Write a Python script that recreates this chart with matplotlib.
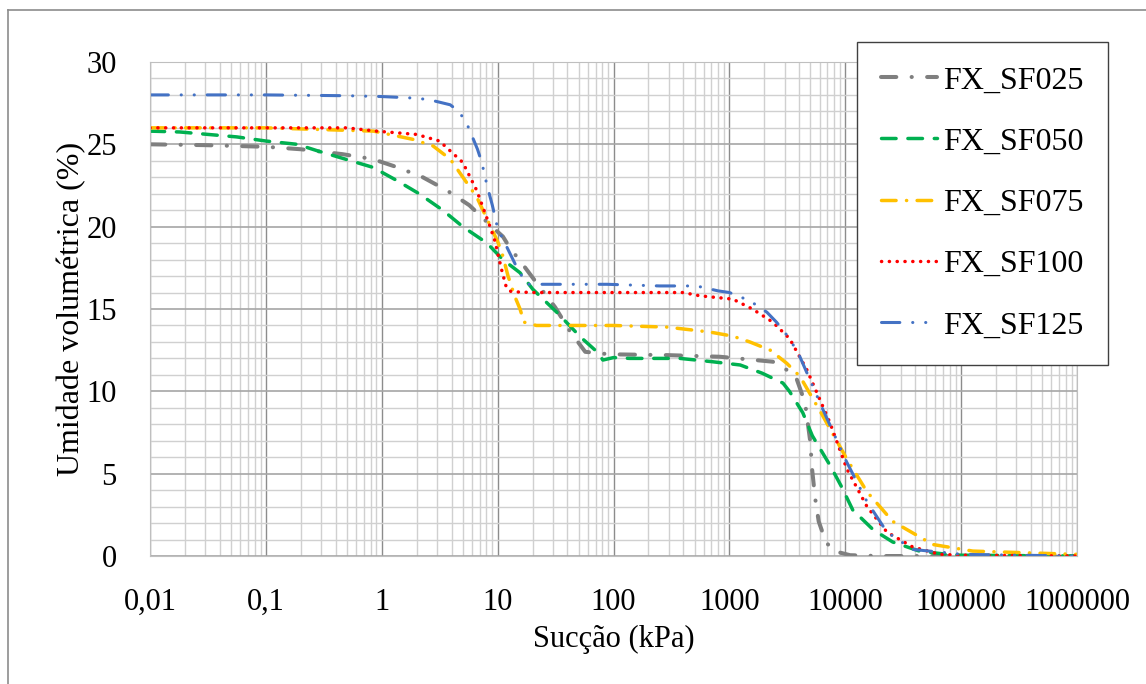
import matplotlib.pyplot as plt
from matplotlib.ticker import LogLocator, MultipleLocator, FuncFormatter, NullFormatter
from matplotlib.lines import Line2D

plt.rcParams['font.family'] = ['Liberation Serif', 'DejaVu Serif']

# Curvas de retenção (sucção em kPa, umidade volumétrica em %)
suc_sf025 = [0.01, 0.03, 0.1, 0.2, 0.46, 0.84, 1.37, 2.26, 3.65, 5.7, 8.6, 11.1, 12.8, 16.5,
             21.6, 31.4, 41.6, 57, 92, 290, 830, 1400, 2370, 3700, 4500, 5000, 5150, 5500,
             5900, 6800, 8000, 11000, 20000, 100000, 1000000]
umi_sf025 = [25.0, 24.95, 24.85, 24.7, 24.4, 24.1, 23.6, 23.0, 22.2, 21.3, 20.1, 19.4, 18.7, 17.7,
             16.6, 15.1, 13.7, 12.4, 12.25, 12.2, 12.1, 11.95, 11.8, 11.0, 9.3, 6.9, 5.4, 3.5,
             2.1, 0.85, 0.3, 0.05, 0.0, 0.0, 0.0]

suc_sf050 = [0.01, 0.018, 0.056, 0.1, 0.186, 0.28, 0.84, 1.35, 2.1, 3.36, 5.0, 8.1, 11.1, 15.6,
             20.1, 32.4, 51.9, 72, 81, 100, 138, 375, 710, 1240, 1920, 2900, 3300, 4300, 5200,
             7400, 9300, 11600, 17400, 25700, 43600, 76000, 100000, 1000000]
umi_sf050 = [25.8, 25.75, 25.45, 25.2, 25.0, 24.6, 23.6, 22.8, 22.0, 21.0, 20.0, 19.0, 18.0, 17.2,
             16.2, 14.8, 13.3, 12.4, 11.9, 12.05, 12.0, 12.0, 11.8, 11.6, 11.1, 10.5, 10.0, 8.7, 7.3,
             5.5, 4.2, 2.8, 1.6, 0.85, 0.3, 0.1, 0.05, 0.0]

suc_sf075 = [0.01, 0.1, 0.85, 1.86, 2.77, 3.9, 6.6, 10.0, 11.0, 12.3, 14.0, 15.6, 16.9, 21.6, 100,
             290, 680, 1070, 1500, 2250, 3130, 4070, 6410, 10300, 15400, 25700, 57000, 126000,
             1000000]
umi_sf075 = [26.0, 26.0, 25.8, 25.3, 24.9, 24.1, 21.8, 19.1, 18.3, 17.0, 15.8, 15.0, 14.2, 14.0, 14.0,
             13.9, 13.6, 13.35, 13.0, 12.5, 11.7, 10.9, 8.5, 5.9, 3.9, 2.1, 0.7, 0.3, 0.1]

suc_sf100 = [0.01, 0.1, 0.5, 0.9, 2.0, 3.15, 5.0, 6.6, 8.6, 9.5, 10.0, 10.9, 11.9, 13.1, 20, 100,
             400, 556, 1070, 1580, 2370, 3310, 4670, 7370, 10300, 15400, 22900, 38200, 65500,
             100000, 1000000]
umi_sf100 = [26.0, 26.0, 26.0, 25.8, 25.6, 25.2, 23.9, 22.2, 20.0, 19.1, 18.4, 17.3, 16.3, 16.05,
             16.0, 16.0, 16.0, 15.8, 15.6, 15.0, 14.2, 13.2, 11.3, 8.1, 5.3, 3.0, 1.45, 0.55, 0.1,
             0.05, 0.0]

suc_sf125 = [0.01, 0.1, 0.5, 1.0, 2.0, 2.6, 3.9, 4.6, 5.3, 5.7, 6.7, 7.3, 8.1, 9.0, 10.0, 14.7,
             17.8, 36, 88, 250, 520, 800, 1000, 1500, 2110, 2550, 3000, 3890, 6410, 10300, 15400,
             22900, 38200, 103000, 1000000]
umi_sf125 = [28.0, 28.0, 27.95, 27.9, 27.8, 27.7, 27.4, 27.0, 26.4, 25.9, 24.7, 23.9, 22.5, 21.3,
             19.9, 17.5, 16.5, 16.5, 16.5, 16.4, 16.4, 16.1, 16.0, 15.5, 14.8, 14.2, 13.6, 12.4,
             8.9, 5.7, 3.3, 1.45, 0.4, 0.1, 0.0]

rotulos = ['FX_SF025', 'FX_SF050', 'FX_SF075', 'FX_SF100', 'FX_SF125']

fig = plt.figure(figsize=(11.46, 6.84), dpi=100)
ax = fig.add_axes([0.1309, 0.1871, 0.8089, 0.7223])

# grade maior/menor
ax.set_xscale('log')
ax.set_xlim(0.01, 1e6)
ax.set_ylim(0, 30)
ax.xaxis.set_major_locator(LogLocator(base=10, numticks=20))
ax.xaxis.set_minor_locator(LogLocator(base=10, subs=range(2, 10), numticks=100))
ax.xaxis.set_minor_formatter(NullFormatter())
ax.yaxis.set_major_locator(MultipleLocator(5))
ax.yaxis.set_minor_locator(MultipleLocator(1))


def fmt_x(v, pos):
    if v >= 1:
        return str(int(round(v)))
    return f'{v:g}'.replace('.', ',')


ax.xaxis.set_major_formatter(FuncFormatter(fmt_x))
ax.grid(which='minor', color='#d0d0d0', linewidth=1.0)
ax.grid(which='major', axis='x', color='#8c8c8c', linewidth=1.0)
ax.grid(which='major', axis='y', color='#a6a6a6', linewidth=1.2)
ax.set_axisbelow(True)
for s in ax.spines.values():
    s.set_color('#bfbfbf')
ax.tick_params(which='both', length=0)
ax.tick_params(axis='y', labelsize=22, pad=24)
ax.tick_params(axis='x', labelsize=22, pad=23)

ax.plot(suc_sf025, umi_sf025, color='#7f7f7f', lw=2.9, dashes=[3.8, 3.8, 0.05, 3.8],
        dash_capstyle='round', label=rotulos[0])
ax.plot(suc_sf050, umi_sf050, color='#00b050', lw=2.5, dashes=[4.2, 3.4],
        dash_capstyle='round', label=rotulos[1])
ax.plot(suc_sf075, umi_sf075, color='#ffc000', lw=2.5, dashes=[4.2, 3.0, 0.05, 3.0],
        dash_capstyle='round', label=rotulos[2])
ax.plot(suc_sf100, umi_sf100, color='#ff0000', lw=2.5, dashes=[0.05, 2.2],
        dash_capstyle='round', label=rotulos[3])
ax.plot(suc_sf125, umi_sf125, color='#4472c4', lw=2.2, dashes=[6.0, 4.2, 0.05, 4.2, 0.05, 4.2],
        dash_capstyle='round', label=rotulos[4])

ax.set_xlabel('Sucção (kPa)', fontsize=22, labelpad=6)
ax.set_ylabel('Umidade volumétrica (%)', fontsize=23, labelpad=0)

leg = ax.legend(loc='upper left', bbox_to_anchor=(857 / 1146, 1 - 42 / 684),
                bbox_transform=fig.transFigure, fontsize=23, frameon=True, fancybox=False,
                edgecolor='#404040', framealpha=1, borderaxespad=0, handlelength=1.75,
                handletextpad=0.2, labelspacing=1.0, borderpad=0.75)
leg.get_frame().set_linewidth(1.0)

# moldura externa da figura
fig.add_artist(Line2D([8 / 1146, 1], [1 - 10 / 684, 1 - 10 / 684], transform=fig.transFigure,
                      color='#8c8c8c', lw=1.2))
fig.add_artist(Line2D([8 / 1146, 8 / 1146], [0, 1 - 10 / 684], transform=fig.transFigure,
                      color='#8c8c8c', lw=1.2))

fig.savefig('out.png', dpi=100)
